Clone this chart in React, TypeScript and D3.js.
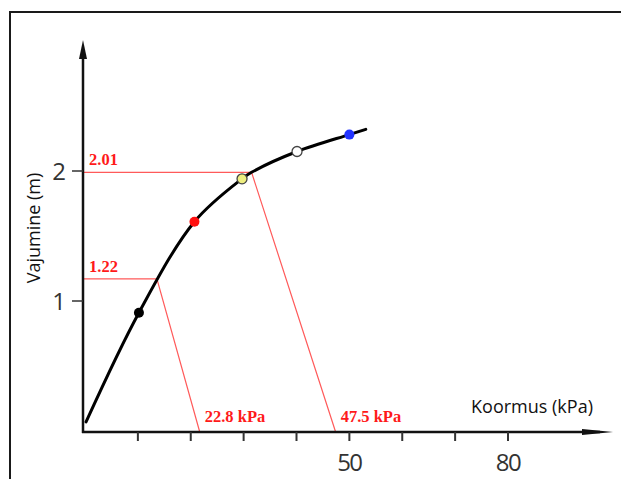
import { useRef, useEffect } from "react";
import * as d3 from "d3";

// curve (kPa, m)
const curveKpa = [0.2, 10.2, 20.7, 29.7, 31.5, 40.1, 50.0, 53.1];
const curveM = [0.07, 0.91, 1.61, 1.94, 1.99, 2.15, 2.28, 2.32];

// coloured measurement dots
const dotKpa = [10.2, 20.7, 29.7, 40.1, 50.0];
const dotM = [0.91, 1.61, 1.94, 2.15, 2.28];
const dotFill = ["#000000", "#ff1010", "#eeee80", "#ffffff", "#2233ff"];

// red guide lines
const guideLabels = ["1.22", "2.01"];
const guideLevelM = [1.17, 1.99];
const guideCurveKpa = [13.6, 31.5];
const guideFootKpa = [21.7, 47.4];
const guideFootLabels = ["22.8 kPa", "47.5 kPa"];

const xTicks = [10, 20, 30, 40, 50, 60, 70, 80];
const xTickLabels = ["", "", "", "", "50", "", "", "80"];
const yTicks = [1, 2];

const W = 621;
const H = 479;

export default function App() {
    const svgRef = useRef<SVGSVGElement | null>(null);

    useEffect(() => {
        if (!svgRef.current) return;
        const svg = d3.select(svgRef.current);
        svg.selectAll("*").remove();

        const x = d3.scaleLinear().domain([0, 80]).range([85, 508]);
        const y = d3.scaleLinear().domain([0, 2]).range([431, 171]);
        const axisX = 83;
        const axisY = 432;
        const sans = "'Open Sans', 'Noto Sans', sans-serif";
        const serif = "'Liberation Serif', 'DejaVu Serif', serif";
        const red = "#ff1a1a";

        // frame (only top and left visible)
        svg.append("path")
            .attr("d", `M10,${H} V12 H${W}`)
            .attr("fill", "none")
            .attr("stroke", "#1a1a1a")
            .attr("stroke-width", 2);

        // red guide lines
        guideLabels.forEach((lab, i) => {
            const ly = y(guideLevelM[i]);
            svg.append("path")
                .attr("d", `M${axisX},${ly} H${x(guideCurveKpa[i])} L${x(guideFootKpa[i])},${axisY}`)
                .attr("fill", "none")
                .attr("stroke", "#ff5a5a")
                .attr("stroke-width", 1.2);
            svg.append("text")
                .attr("x", axisX + 6)
                .attr("y", ly - 7)
                .attr("fill", red)
                .attr("font-family", serif)
                .attr("font-weight", "bold")
                .attr("font-size", 16.5)
                .text(lab);
            svg.append("text")
                .attr("x", x(guideFootKpa[i]) + 5)
                .attr("y", axisY - 10)
                .attr("fill", red)
                .attr("font-family", serif)
                .attr("font-weight", "bold")
                .attr("font-size", 16.5)
                .text(guideFootLabels[i]);
        });

        // x axis with arrow
        svg.append("line")
            .attr("x1", axisX - 1).attr("x2", 600)
            .attr("y1", axisY).attr("y2", axisY)
            .attr("stroke", "#111").attr("stroke-width", 2.5);
        svg.append("path")
            .attr("d", `M582,${axisY - 3} L613,${axisY} L582,${axisY + 3} Z`)
            .attr("fill", "#111");

        svg.append("g")
            .selectAll("line")
            .data(xTicks)
            .enter()
            .append("line")
            .attr("x1", d => x(d)).attr("x2", d => x(d))
            .attr("y1", axisY).attr("y2", axisY + 9)
            .attr("stroke", "#333").attr("stroke-width", 2);

        svg.append("g")
            .selectAll("text")
            .data(xTicks)
            .enter()
            .append("text")
            .attr("x", d => x(d))
            .attr("y", 471)
            .attr("text-anchor", "middle")
            .attr("font-family", sans)
            .attr("font-size", 24)
            .attr("letter-spacing", -1.5)
            .attr("fill", "#333")
            .text((_, i) => xTickLabels[i]);

        svg.append("text")
            .attr("x", 532)
            .attr("y", 413)
            .attr("text-anchor", "middle")
            .attr("font-family", sans)
            .attr("font-size", 18)
            .attr("fill", "#111")
            .text("Koormus (kPa)");

        // y axis with arrow
        svg.append("line")
            .attr("x1", axisX).attr("x2", axisX)
            .attr("y1", axisY + 1).attr("y2", 55)
            .attr("stroke", "#111").attr("stroke-width", 2.5);
        svg.append("path")
            .attr("d", `M${axisX - 4},59 L${axisX},40 L${axisX + 4},59 Z`)
            .attr("fill", "#111");

        svg.append("g")
            .selectAll("line")
            .data(yTicks)
            .enter()
            .append("line")
            .attr("x1", axisX - 11).attr("x2", axisX)
            .attr("y1", d => y(d)).attr("y2", d => y(d))
            .attr("stroke", "#333").attr("stroke-width", 1.5);

        svg.append("g")
            .selectAll("text")
            .data(yTicks)
            .enter()
            .append("text")
            .attr("x", 59)
            .attr("y", d => y(d) + 9)
            .attr("text-anchor", "middle")
            .attr("font-family", sans)
            .attr("font-size", 24)
            .attr("fill", "#333")
            .text(d => String(d));

        svg.append("text")
            .attr("transform", "translate(40,228) rotate(-90)")
            .attr("text-anchor", "middle")
            .attr("font-family", sans)
            .attr("font-size", 18)
            .attr("fill", "#111")
            .text("Vajumine (m)");

        // curve
        const line = d3.line<number>()
            .x((_, i) => x(curveKpa[i]))
            .y(d => y(d))
            .curve(d3.curveCatmullRom.alpha(0.5));
        svg.append("path")
            .attr("d", line(curveM))
            .attr("fill", "none")
            .attr("stroke", "#000")
            .attr("stroke-width", 3)
            .attr("stroke-linecap", "round");

        // dots
        svg.append("g")
            .selectAll("circle")
            .data(dotM)
            .enter()
            .append("circle")
            .attr("cx", (_, i) => x(dotKpa[i]))
            .attr("cy", d => y(d))
            .attr("r", 5)
            .attr("fill", (_, i) => dotFill[i])
            .attr("stroke", (_, i) => (i === 2 || i === 3 ? "#444" : "none"))
            .attr("stroke-width", 1.3);
    }, []);

    return (
        <svg
            ref={svgRef}
            width={W}
            height={H}
            style={{ position: "absolute", left: 0, top: 0, background: "#fff" }}
        />
    );
}
